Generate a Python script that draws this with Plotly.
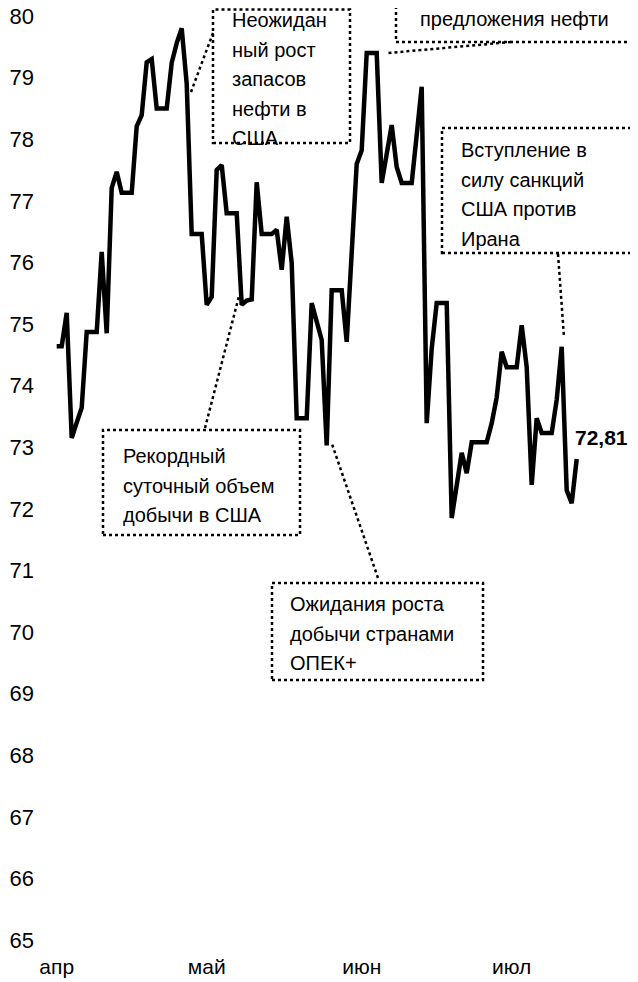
import plotly.graph_objects as go

# ---- data ----
prices = [
    74.64, 74.64, 75.18, 73.15, 73.40, 73.64, 74.87, 74.87, 74.87, 76.17,
    74.85, 77.21, 77.47, 77.13, 77.13, 77.13, 78.21, 78.39, 79.25, 79.30,
    78.50, 78.50, 78.50, 79.24, 79.56, 79.80, 78.90, 76.46, 76.46, 76.46,
    75.31, 75.44, 77.50, 77.58, 76.80, 76.80, 76.80, 75.31, 75.38, 75.40,
    77.30, 76.46, 76.46, 76.46, 76.53, 75.88, 76.74, 75.99, 73.47, 73.47,
    73.47, 75.34, 75.05, 74.74, 73.03, 75.55, 75.55, 75.55, 74.71, 76.15,
    77.60, 77.82, 79.40, 79.40, 79.40, 77.29, 77.76, 78.23, 77.55, 77.29,
    77.29, 77.29, 78.07, 78.85, 73.39, 74.60, 75.34, 75.34, 75.34, 71.85,
    72.40, 72.91, 72.58, 73.08, 73.08, 73.08, 73.08, 73.39, 73.81, 74.55,
    74.30, 74.30, 74.30, 74.98, 74.30, 72.39, 73.47, 73.23, 73.23, 73.23,
    73.77, 74.63, 72.30, 72.09, 72.81,
]
days = list(range(len(prices)))
month_days = [0, 30, 61, 91]
month_labels = ["апр", "май", "июн", "июл"]
y_ticks = list(range(65, 81))
last_label = "72,81"

note_stocks = ["Неожидан", "ный рост", "запасов", "нефти в", "США"]
note_supply = ["предложения нефти"]
note_iran = ["Вступление в", "силу санкций", "США против", "Ирана"]
note_record = ["Рекордный", "суточный объем", "добычи в США"]
note_opec = ["Ожидания роста", "добычи странами", "ОПЕК+"]

# ---- layout geometry (the page adds an 8px body margin) ----
OFF = 8
W, H = 630, 974
ML, MR, MT, MB = 32, 18, 0, 32
X0, X1 = -3.34, 112.66
Y0, Y1 = 64.838, 80.13
PW, PH = W - ML - MR, H - MT - MB

def xp(px):  # screen pixel -> paper x
    return (px - OFF - ML) / PW

def yp(py):  # screen pixel -> paper y
    return 1 - (py - OFF - MT) / PH

FONT = "Liberation Sans, Arial, sans-serif"
LINE_PITCH = 29.5

fig = go.Figure()
fig.add_trace(go.Scatter(
    x=days, y=prices, mode="lines",
    line=dict(color="black", width=4.5),
    hoverinfo="skip", showlegend=False,
))

shapes = []
def box(x0, y0, x1, y1):
    shapes.append(dict(type="rect", xref="paper", yref="paper",
                       x0=xp(x0), x1=xp(x1), y0=yp(y1), y1=yp(y0),
                       line=dict(color="black", width=2.5, dash="dot"),
                       fillcolor="white", layer="above"))

def conn(x0, y0, x1, y1):
    shapes.append(dict(type="line", xref="paper", yref="paper",
                       x0=xp(x0), y0=yp(y0), x1=xp(x1), y1=yp(y1),
                       line=dict(color="black", width=2.5, dash="dot"),
                       layer="above"))

box(213, 9.5, 350, 143)
conn(213, 33, 191, 92)
box(396, -40, 632, 42)
conn(511, 42, 388, 53)
box(442, 128, 636, 253)
conn(558, 254, 564, 337)
box(103, 430, 300, 535)
conn(205, 428, 239, 296)
box(272, 583, 483, 680)
conn(378, 578, 332, 444)

annos = []
def txt(text, x, y, xanchor="left", yanchor="middle", size=20, bold=False):
    annos.append(dict(text=("<b>%s</b>" % text) if bold else text,
                      x=xp(x), y=yp(y), xref="paper", yref="paper",
                      xanchor=xanchor, yanchor=yanchor,
                      showarrow=False,
                      font=dict(family=FONT, size=size, color="black")))

def lines(items, x, y_first, xanchor="left"):
    for k, s in enumerate(items):
        txt(s, x, y_first + k * LINE_PITCH, xanchor=xanchor)

lines(note_stocks, 230, 20)
lines(note_supply, 514, 19, xanchor="center")
lines(note_iran, 459, 150)
lines(note_record, 121, 456)
lines(note_opec, 288, 604)
txt(last_label, 573, 437, size=21, bold=True)

fig.update_layout(
    width=W, height=H,
    margin=dict(l=ML, r=MR, t=MT, b=MB),
    paper_bgcolor="white", plot_bgcolor="white",
    shapes=shapes, annotations=annos,
    xaxis=dict(range=[X0, X1], tickvals=month_days, ticktext=month_labels,
               showgrid=False, zeroline=False, showline=False, ticks="",
               tickfont=dict(family=FONT, size=21, color="black"),
               ticklabelstandoff=2, automargin=False,
               ticklabeloverflow="allow"),
    yaxis=dict(range=[Y0, Y1], tickvals=y_ticks,
               showgrid=False, zeroline=False, showline=False, ticks="",
               tickfont=dict(family=FONT, size=22, color="black"),
               ticklabelstandoff=5, automargin=False,
               ticklabeloverflow="allow"),
    font=dict(family=FONT),
)

fig.write_html("out.html")
